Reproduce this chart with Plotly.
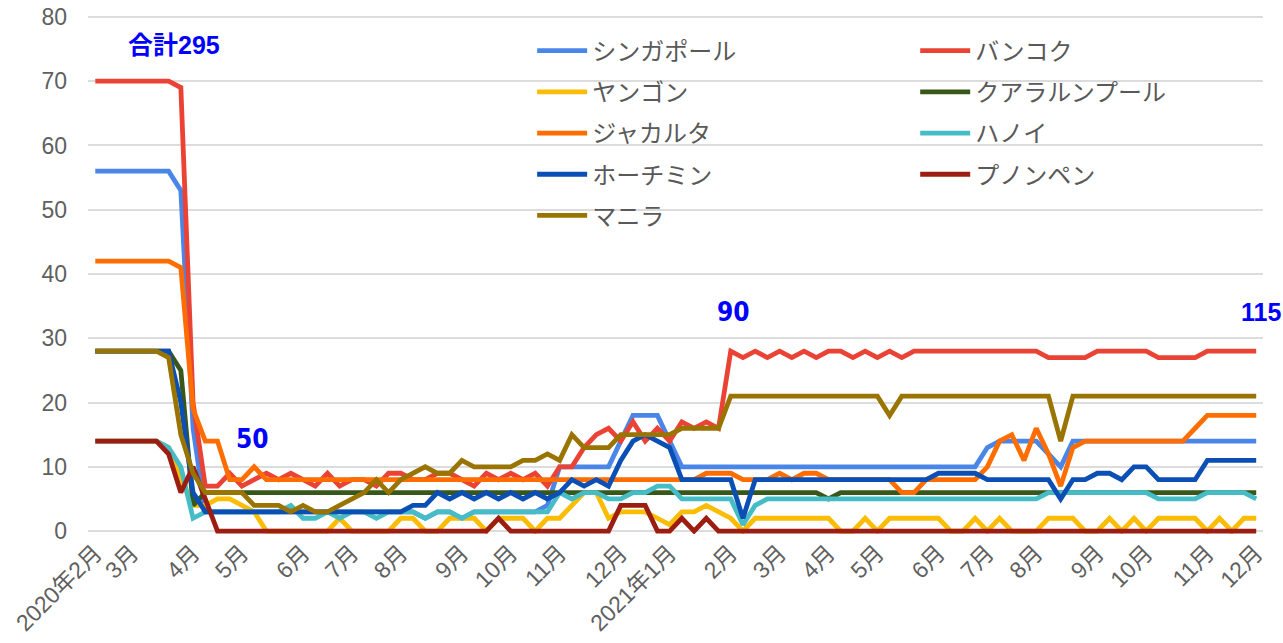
import pandas as pd
import plotly.graph_objects as go

# ---- data (weekly, Sundays) ----
start_date = "2020-02-09"
n_weeks = 96
weeks = [d.strftime("%Y-%m-%d") for d in pd.date_range(start_date, periods=n_weeks, freq="7D")]

month_labels = ["2020年2月", "3月", "4月", "5月", "6月", "7月", "8月", "9月", "10月", "11月", "12月",
                "2021年1月", "2月", "3月", "4月", "5月", "6月", "7月", "8月", "9月", "10月", "11月", "12月"]

singapore = [56]*7 + [53, 16] + [3]*17 + [3, 2, 3, 3, 2, 3, 3, 3, 3, 3, 3] + [4] + [10]*5 + [14] + [18]*3 + [14] \
    + [10]*25 + [13] + [14]*4 + [12, 10] + [14]*16
bangkok = [70]*7 + [69, 20] + [7, 7, 9, 7, 8, 9, 8, 9, 8, 7, 9, 7, 8, 8, 7, 9, 9] \
    + [8, 8, 9, 9, 8, 7, 9, 8, 9, 8, 9, 7] \
    + [10, 10, 13, 15, 16, 14, 17, 14, 16, 14, 17, 16, 17, 16] \
    + [28, 27, 28, 27, 28, 27, 28, 27, 28, 28, 27, 28, 27, 28, 27] \
    + [28]*11 + [27]*4 + [28]*5 + [27]*4 + [28]*5
yangon = [14]*6 + [13, 8, 4, 4, 5, 5, 4, 3] + [0]*6 + [2] + [0]*4 \
    + [2, 2, 0, 0, 2, 2, 2, 0, 2, 2, 2, 0, 2, 2, 4, 6, 6, 2, 3, 3, 3, 2, 1, 3, 3, 4, 3, 2, 0] \
    + [2]*7 + [0, 0, 2, 0] + [2]*5 \
    + [0, 0, 2, 0, 2, 0, 0, 0, 2, 2, 2, 0, 0, 2, 0, 2, 0, 2, 2, 2, 2, 0, 2, 0, 2, 2]
kuala_lumpur = [28]*7 + [25, 4] + [6]*51 + [5] + [6]*35
jakarta = [42]*7 + [41, 19, 14, 14, 8, 8, 10] + [8]*36 + [9]*3 + [8]*3 + [9, 8, 9, 9] + [8]*6 + [6, 6] + [8]*5 \
    + [10, 14, 15, 11, 16, 12, 7, 13] + [14]*9 + [16] + [18]*5
hanoi = [14]*6 + [13, 10, 2] + [3]*7 + [4, 2, 2, 3, 2, 3, 3, 2, 3, 3, 3, 2, 3, 3, 2] + [3]*7 \
    + [6, 5, 6, 6, 5, 5, 6, 6, 7, 7] + [5]*5 + [1, 4] + [5]*23 + [6]*9 + [5]*4 + [6]*4 + [5]
ho_chi_minh = [28]*7 + [20, 6] + [3]*17 \
    + [4, 4, 6, 5, 6, 5, 6, 5, 6, 5, 6, 5, 6, 8, 7, 8, 7, 11, 14, 15, 14, 13] \
    + [8]*5 + [2] + [8]*15 + [9]*4 + [8]*6 + [5, 8, 8, 9, 9, 8, 10, 10] + [8]*4 + [11]*5
phnom_penh = [14]*6 + [12, 6, 10, 5] + [0]*23 + [2] + [0]*9 + [4]*3 + [0, 0, 2, 0, 2] + [0]*45
manila = [28]*6 + [27, 15, 9] + [6]*4 \
    + [4, 4, 4, 3, 4, 3, 3, 4, 5, 6, 8, 6, 8, 9, 10, 9, 9, 11] + [10]*4 + [11, 11, 12, 11, 15] \
    + [13]*3 + [15]*5 + [16]*4 + [21]*13 + [18] + [21]*13 + [14] + [21]*16

series = [
    ("シンガポール", singapore, "#4a86e8", "legend"),
    ("バンコク", bangkok, "#ea4335", "legend2"),
    ("ヤンゴン", yangon, "#fbbc04", "legend"),
    ("クアラルンプール", kuala_lumpur, "#38571a", "legend2"),
    ("ジャカルタ", jakarta, "#ff6d01", "legend"),
    ("ハノイ", hanoi, "#46bdc6", "legend2"),
    ("ホーチミン", ho_chi_minh, "#0b4fb4", "legend"),
    ("プノンペン", phnom_penh, "#9c1d12", "legend2"),
    ("マニラ", manila, "#9a7400", "legend"),
]

annotations_text = [("合計295", 6.4, 75.7, "bold"), ("50", 12.9, 14.4, "narrow"),
                    ("90", 52.2, 34.1, "narrow"), ("115", 95.4, 34.1, "bold")]

# tick positions: first week of each month
tick_vals = []
prev = None
for w in weeks:
    ym = w[:7]
    if ym != prev:
        tick_vals.append(w)
        prev = ym

fig = go.Figure()
for name, vals, color, lg in series:
    fig.add_trace(go.Scatter(
        x=weeks, y=vals, name=name, mode="lines",
        line=dict(color=color, width=4.8),
        legend=lg, legendgroup=name,
    ))

tick_font = dict(family="Liberation Sans, Arial, Noto Sans CJK JP", size=23, color="#5f5f5f")
legend_font = dict(family="Noto Sans CJK JP, Liberation Sans", size=24, color="#595959")

fig.update_layout(
    width=1283, height=643,
    margin=dict(l=88, r=20, t=14, b=109),
    paper_bgcolor="white", plot_bgcolor="white",
    showlegend=True,
    legend=dict(x=0.378, y=0.972, xanchor="left", yanchor="top", font=legend_font,
                traceorder="grouped", tracegroupgap=7, bgcolor="rgba(0,0,0,0)", itemwidth=50),
    legend2=dict(x=0.704, y=0.972, xanchor="left", yanchor="top", font=legend_font,
                 traceorder="grouped", tracegroupgap=7, bgcolor="rgba(0,0,0,0)", itemwidth=50),
    xaxis=dict(type="category", range=[-0.597, 95.556], tickmode="array",
               tickvals=tick_vals, ticktext=month_labels, tickangle=-45,
               showgrid=False, zeroline=False, showline=False, ticks="",
               tickfont=tick_font, automargin=False),
    yaxis=dict(range=[-0.45, 80.45], tickmode="array", tickvals=[0, 10, 20, 30, 40, 50, 60, 70, 80],
               showgrid=True, gridcolor="#dcdcdc", gridwidth=2, zeroline=False, showline=False,
               ticks="", tickfont=tick_font, ticklabelstandoff=20, automargin=False),
)

for text, xi, yv, style in annotations_text:
    if style == "bold":
        f = dict(family="Liberation Sans, Arial, Noto Sans CJK JP", size=25, color="#0000ff", weight="bold")
    else:
        f = dict(family="Liberation Sans Narrow, DejaVu Sans Condensed, Liberation Sans", size=26,
                 color="#0000ff", weight="bold")
    fig.add_annotation(x=xi, y=yv, xref="x", yref="y", text=text, showarrow=False, font=f)

fig.write_html("out.html")
